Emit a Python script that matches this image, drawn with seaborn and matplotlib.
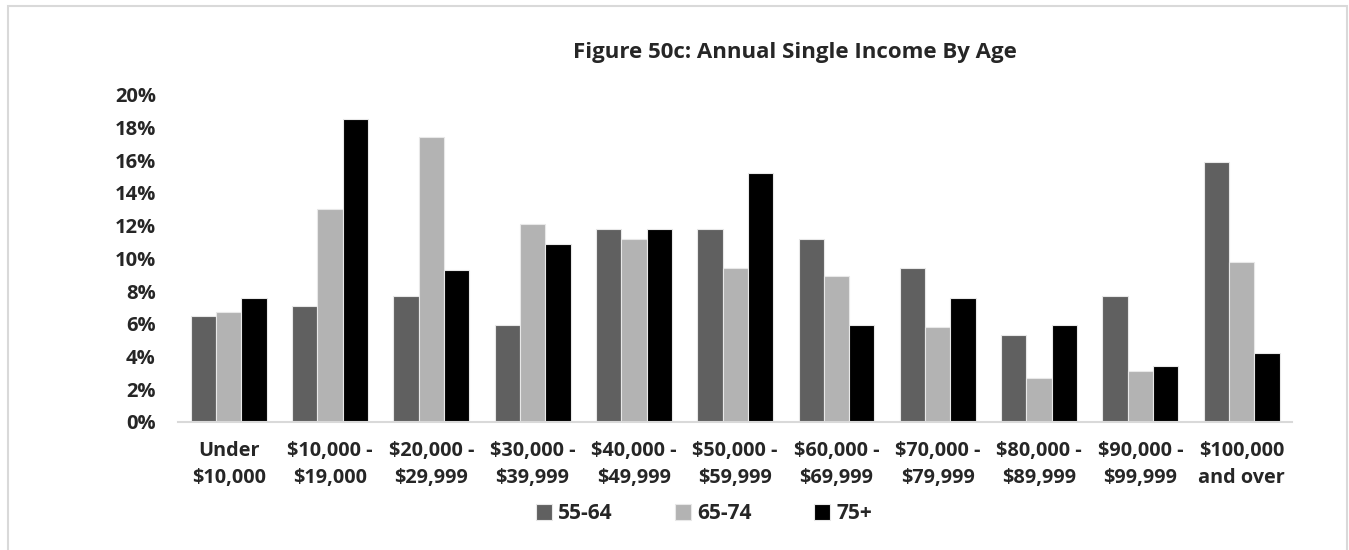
import pandas as pd
import matplotlib.pyplot as plt
import seaborn as sns
from matplotlib.patches import Rectangle

# Income brackets (x axis)
brackets = ['Under\n$10,000', '$10,000 -\n$19,000', '$20,000 -\n$29,999',
            '$30,000 -\n$39,999', '$40,000 -\n$49,999', '$50,000 -\n$59,999',
            '$60,000 -\n$69,999', '$70,000 -\n$79,999', '$80,000 -\n$89,999',
            '$90,000 -\n$99,999', '$100,000\nand over']

# Percent of singles in each bracket, by age group
age_55_64 = [6.5, 7.1, 7.7, 5.9, 11.8, 11.8, 11.2, 9.4, 5.3, 7.7, 15.9]
age_65_74 = [6.7, 13.0, 17.4, 12.1, 11.2, 9.4, 8.9, 5.8, 2.7, 3.1, 9.8]
age_75_up = [7.6, 18.5, 9.3, 10.9, 11.8, 15.2, 5.9, 7.6, 5.9, 3.4, 4.2]

groups = ['55-64', '65-74', '75+']
colors = ['#606060', '#b3b3b3', '#000000']

df = pd.DataFrame({
    'bracket': brackets * 3,
    'age': [g for g in groups for _ in brackets],
    'pct': age_55_64 + age_65_74 + age_75_up,
})

sns.set_style('white')
plt.rcParams['font.family'] = ['Open Sans', 'DejaVu Sans']
plt.rcParams['font.weight'] = 'bold'

fig = plt.figure(figsize=(13.49, 5.5), dpi=100)
ax = fig.add_axes([0.132, 0.2333, 0.826, 0.594])

sns.barplot(data=df, x='bracket', y='pct', hue='age', palette=colors,
            width=0.75, edgecolor='#e8e8e8', linewidth=0.8, ax=ax)

ax.set_ylim(0, 20)
ax.set_xlim(-0.5, len(brackets) - 0.5)
ax.set_yticks(range(0, 21, 2))
ax.set_yticklabels([f'{v}%' for v in range(0, 21, 2)], fontsize=14.5, fontweight='bold')
ax.set_xticklabels(brackets, fontsize=14.3, fontweight='bold', linespacing=1.45)
ax.set_xlabel('')
ax.set_ylabel('')

# category boundary ticks on the bottom axis
ax.set_xticks([i - 0.5 for i in range(len(brackets) + 1)], minor=True)
ax.tick_params(axis='x', which='major', length=0, pad=14)
ax.tick_params(axis='x', which='minor', length=6, width=1.2, color='#d9d9d9')
ax.tick_params(axis='y', length=0, pad=16)

for s in ['left', 'right', 'top']:
    ax.spines[s].set_visible(False)
ax.spines['bottom'].set_color('#d9d9d9')
ax.spines['bottom'].set_linewidth(1.5)

fig.text(0.589, 0.905, 'Figure 50c: Annual Single Income By Age',
         ha='center', va='center', fontsize=16, fontweight='bold')

leg = ax.legend(loc='center', bbox_to_anchor=(0.472, -0.282), ncol=3,
                frameon=False, fontsize=15, handlelength=0.75, handleheight=0.75,
                columnspacing=3.0, handletextpad=0.3)
for t in leg.get_texts():
    t.set_fontweight('bold')

# outer chart border
fig.patches.append(Rectangle((8 / 1349, -0.01), 1339 / 1349, 1 - 6 / 550 + 0.01,
                             transform=fig.transFigure, fill=False,
                             edgecolor='#d9d9d9', linewidth=1.5))

fig.savefig('out.png', dpi=100)
